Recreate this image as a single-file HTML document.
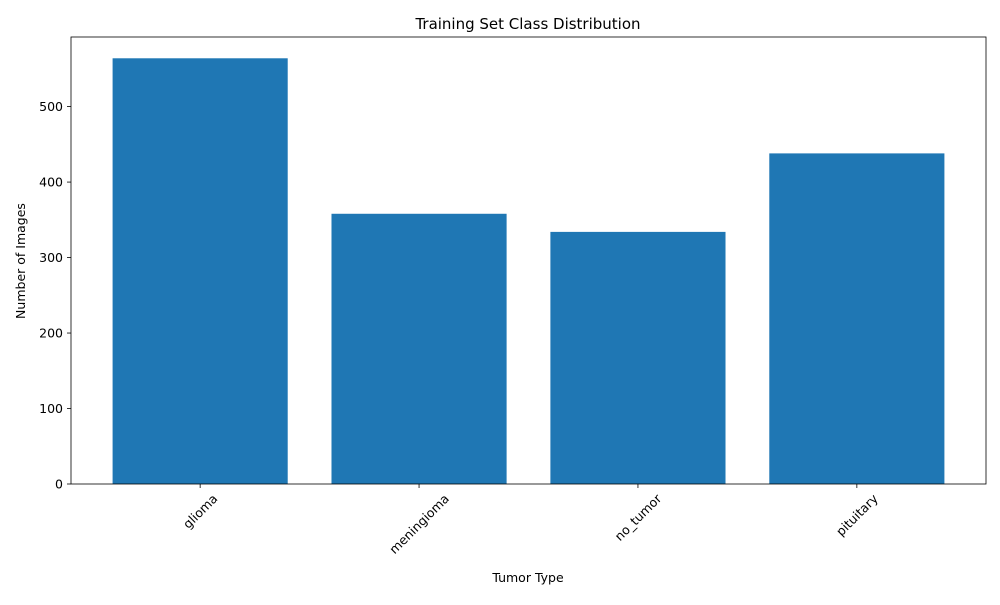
<!DOCTYPE html>
<html><head><meta charset="utf-8"><style>body{margin:0;background:#fff}svg{font-family:"DejaVu Sans","Liberation Sans",sans-serif}</style></head>
<body>
<svg id="chart" width="1000" height="600">
<rect x="0" y="0" width="1000" height="600" fill="#fff"/>
<text x="528" y="29" font-size="15" text-anchor="middle">Training Set Class Distribution</text>
<g id="bars"></g><g id="axes"></g>
<text x="528" y="582" font-size="12.5" text-anchor="middle">Tumor Type</text>
<text transform="translate(25,261) rotate(-90)" font-size="12.5" text-anchor="middle">Number of Images</text>
</svg>
<script>
const categories=["glioma","meningioma","no_tumor","pituitary"];
const counts=[564,358,334,438];
const yTicks=[0,100,200,300,400,500];
const L=71,R=986,T=37,B=484;
const ymax=Math.max(...counts)*1.05;
const span=(categories.length-1)+0.8;
const xmin=-0.4-span*0.05,xmax=categories.length-1+0.4+span*0.05;
const xs=v=>L+(v-xmin)/(xmax-xmin)*(R-L);
const ys=v=>B-v/ymax*(B-T);
const NS="http://www.w3.org/2000/svg";
const bars=document.getElementById('bars'),axes=document.getElementById('axes');
function mk(tag,a,p){const e=document.createElementNS(NS,tag);for(const k in a)e.setAttribute(k,a[k]);p.appendChild(e);return e;}
counts.forEach((c,i)=>{
 const r=mk('rect',{x:xs(i-0.4),y:ys(c),width:xs(i+0.4)-xs(i-0.4),height:B-ys(c),fill:'#1f77b4'},bars);
 
 
 const x=xs(i);
 const t=mk('line',{x1:x,x2:x,y1:B,y2:B+4,stroke:'#000','stroke-width':0.8},axes);
 
 
 const lb=mk('text',{'font-size':12.5,'text-anchor':'middle','dominant-baseline':'central'},axes);
 lb.textContent=categories[i];
 
 
 const w=lb.getComputedTextLength();
 const cy=B+8+(w+12)*0.7071/2;
 lb.setAttribute('transform',`translate(${x},${cy}) rotate(-45)`);
});
yTicks.forEach(v=>{
 const y=ys(v);
 const t=mk('line',{x1:L-4,x2:L,y1:y,y2:y,stroke:'#000','stroke-width':0.8},axes);
 
 
 const lb=mk('text',{x:L-8,y:y+4.5,'font-size':12.5,'text-anchor':'end'},axes);
 lb.textContent=v;
 
 
});
const f=mk('rect',{x:L,y:T,width:R-L,height:B-T,fill:'none',stroke:'#000','stroke-width':0.8},axes);


</script>
</body></html>
